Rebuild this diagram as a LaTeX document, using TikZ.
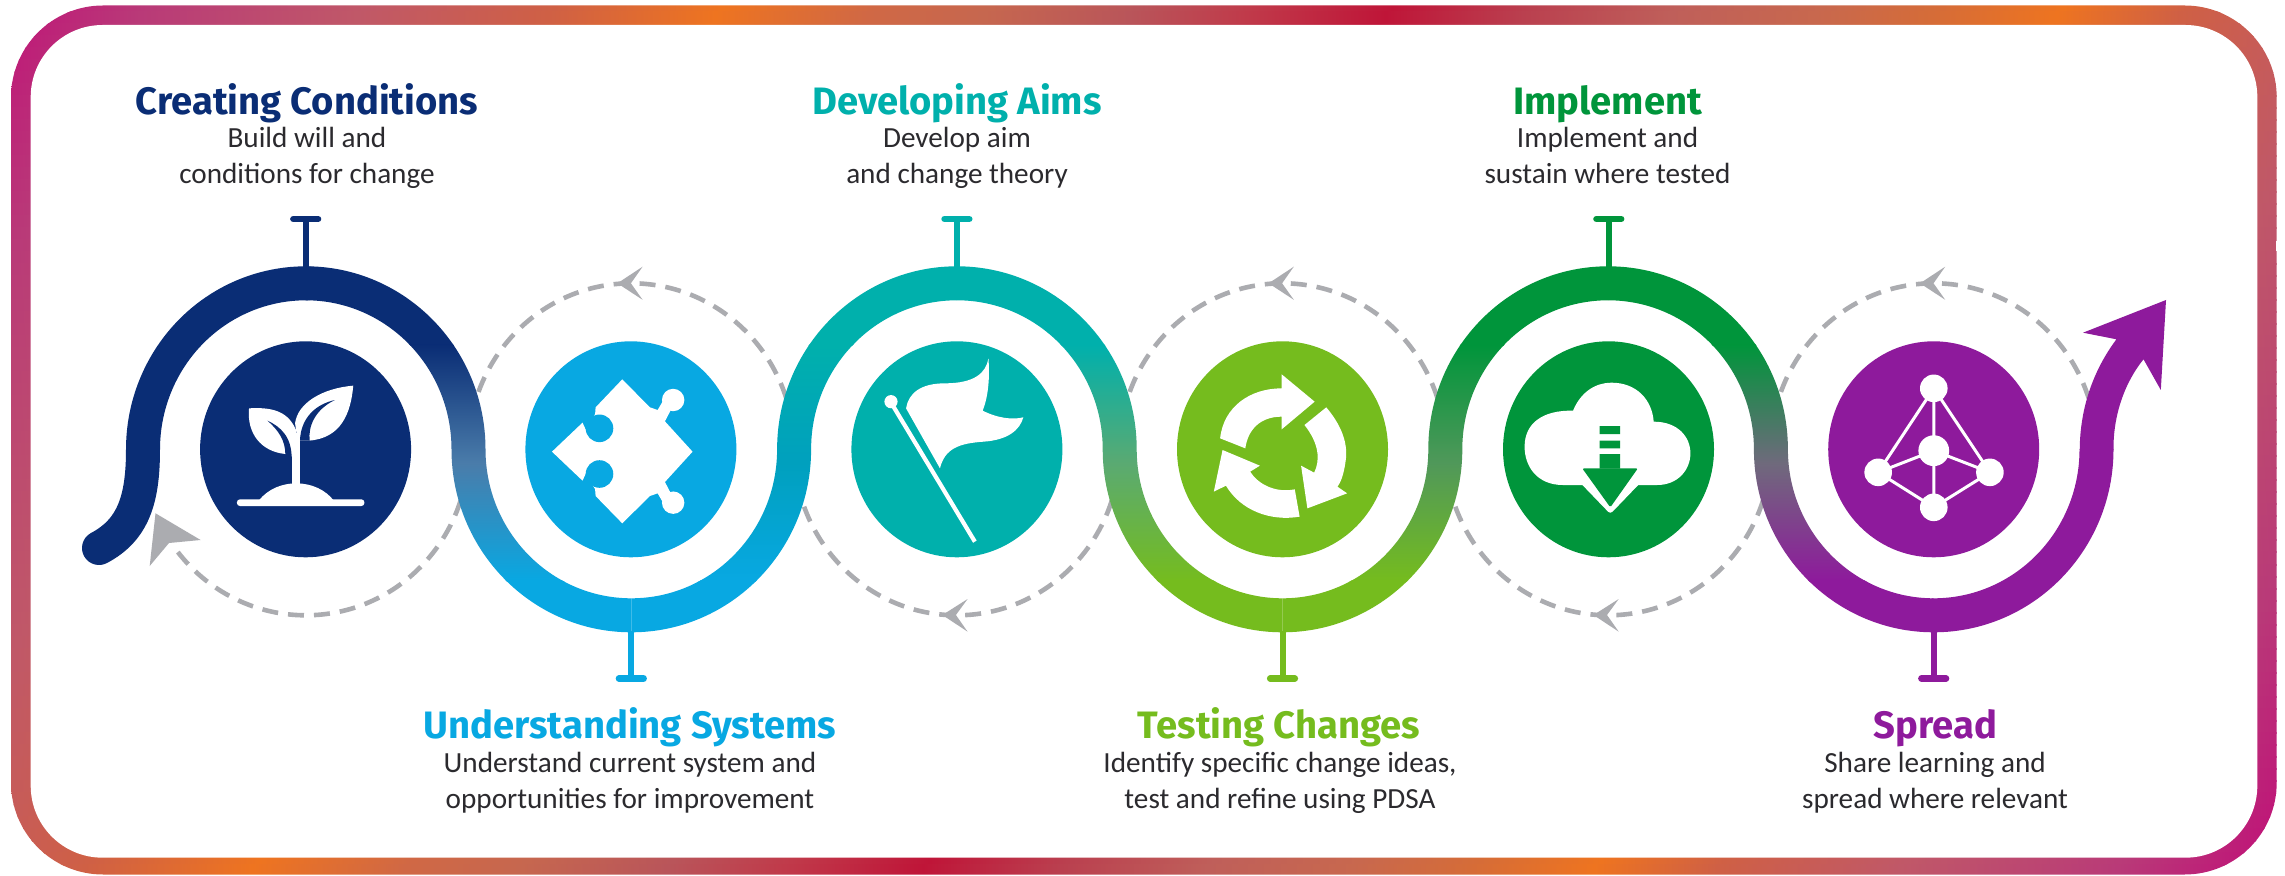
\documentclass[tikz,border=0pt]{standalone}
\usepackage{fontspec}
\usetikzlibrary{shapes.geometric}
\setmainfont{Carlito}
\newfontfamily\titlefont{Fira Sans}[UprightFont=*,BoldFont=* Bold]
\definecolor{ciNavy}{HTML}{0A2D75}
\definecolor{ciSky}{HTML}{08A8E2}
\definecolor{ciTeal}{HTML}{00B0AC}
\definecolor{ciLime}{HTML}{75BC1E}
\definecolor{ciGrass}{HTML}{00953B}
\definecolor{ciPurple}{HTML}{8E1A9C}
\definecolor{ciGray}{HTML}{ABACB0}
\definecolor{ciText}{HTML}{2B2A2E}
\definecolor{mixA}{HTML}{4A7CAA}
\definecolor{mixB}{HTML}{00A0BE}
\definecolor{mixC}{HTML}{5AAA72}
\definecolor{mixD}{HTML}{50985A}
\definecolor{mixE}{HTML}{6F6A7C}
\definecolor{fa}{HTML}{BF1278}\definecolor{fb}{HTML}{B93A78}\definecolor{fc}{HTML}{C05868}
\definecolor{fd}{HTML}{CF6045}\definecolor{fe}{HTML}{EE7420}\definecolor{ff}{HTML}{D06845}
\definecolor{fg}{HTML}{C6674F}\definecolor{fh}{HTML}{B9555A}\definecolor{fi}{HTML}{C03A4A}
\definecolor{fj}{HTML}{BF1538}\definecolor{fk}{HTML}{BA404F}\definecolor{fl}{HTML}{BF5F5A}
\definecolor{fm}{HTML}{C8684E}\definecolor{fn}{HTML}{D56C38}
\pgfdeclarehorizontalshading{framegrad}{100bp}{
 color(0bp)=(fa); color(25bp)=(fa); color(27.61bp)=(fb); color(31.5bp)=(fc); color(34.89bp)=(fd);
 color(37.89bp)=(fe); color(40.61bp)=(ff); color(42.68bp)=(fg); color(45.29bp)=(fh); color(47.38bp)=(fi);
 color(49.86bp)=(fj); color(52.32bp)=(fk); color(54.93bp)=(fl); color(57.54bp)=(fm); color(59.61bp)=(fn);
 color(61.84bp)=(fe); color(64.04bp)=(fd); color(67.3bp)=(fc); color(71.2bp)=(fb); color(73.8bp)=(fa); color(100bp)=(fa)}
% ribbon geometry (px centre line 162.8/166, half width 17); radii in pt = px/2
\def\cyy{449.3}
\def\rxo{89.9pt}\def\ryo{91.5pt}\def\rxi{72.9pt}\def\ryi{74.5pt}\def\rxm{81.4pt}\def\rym{83pt}
\newcommand\rdown[1]{(#1,266.3) arc[start angle=90,end angle=0,x radius=\rxo,y radius=\ryo]
 arc[start angle=180,end angle=270,x radius=\rxi,y radius=\ryi] -- ++(0,34)
 arc[start angle=270,end angle=180,x radius=\rxo,y radius=\ryo]
 arc[start angle=0,end angle=90,x radius=\rxi,y radius=\ryi] -- cycle}
\newcommand\rup[1]{(#1,632.3) arc[start angle=270,end angle=360,x radius=\rxo,y radius=\ryo]
 arc[start angle=180,end angle=90,x radius=\rxi,y radius=\ryi] -- ++(0,-34)
 arc[start angle=90,end angle=180,x radius=\rxo,y radius=\ryo]
 arc[start angle=0,end angle=-90,x radius=\rxi,y radius=\ryi] -- cycle}
\newcommand\ribbonpiece[5]{%
 \begin{scope}
 \clip #1{#2};
 \fill[#3] (#2-200,250) rectangle (#2+520,346);
 \shade[top color=#3,bottom color=#5,middle color=#4] (#2-200,345) rectangle (#2+520,581);
 \fill[#5] (#2-200,580) rectangle (#2+520,650);
 \end{scope}}
\tikzset{
 disc/.style={ellipse,inner sep=0pt,minimum width=105.5pt,minimum height=108pt,fill=#1},
 dashloop/.style={draw=ciGray,line width=2.3pt,dash pattern=on 8pt off 5pt},
 headfill/.style={fill=ciGray},
 stemline/.style={draw=#1,line width=3pt},
 barline/.style={draw=#1,line width=3.2pt,line cap=round},
 heading/.style={font=\titlefont\bfseries\fontsize{19.1}{22}\selectfont,text=#1,anchor=base,inner sep=0pt},
 bodytext/.style={font=\fontsize{14.6}{18}\selectfont,text=ciText,align=center,inner sep=0pt},
 zoomA/.style={shift={(60,200)},x=0.24235pt,y=-0.16667pt},
 zoomB/.style={shift={(780,200)},x=0.24235pt,y=-0.16667pt},
 zoomC/.style={shift={(1420,200)},x=0.2551pt,y=-0.16667pt},
}
\begin{document}
\begin{tikzpicture}[x=0.5pt,y=-0.5pt]
\useasboundingbox (0,0) rectangle (2285,876);
% gradient frame
\begin{scope}
 \clip[rounded corners=46pt] (11,5.5) rectangle (2276.7,874.5);
 \foreach \yy in {0,12,...,876}{
  \shade[shading=framegrad] ({-0.543*\yy},\yy) rectangle ({2800-0.543*\yy},\yy+13);
 }
\end{scope}
\fill[white,rounded corners=36pt] (30.7,25) rectangle (2257.3,857.7);
% dashed loops
\draw[dashloop] (305.7+162.8,\cyy) arc[start angle=0,end angle=-145,x radius=\rxm,y radius=\rym];
\foreach \xx in {631.3,1282.5,1933.7}
 \draw[dashloop] (\xx+162.8,\cyy) arc[start angle=0,end angle=180,x radius=\rxm,y radius=\rym];
\foreach \xx in {956.9,1608.1}
 \draw[dashloop] (\xx+162.8,\cyy) arc[start angle=0,end angle=-180,x radius=\rxm,y radius=\rym];
\fill[headfill] (155.5,513.3) -- (200.6,540) -- (169,543) -- (149.7,566) -- cycle;
\foreach \xx in {617.4,1268.6,1920}
 \fill[headfill] (\xx,283.3) -- (\xx+25.2,266.7) -- (\xx+13.5,283.3) -- (\xx+25.2,299.8) -- cycle;
\foreach \xx in {942.4,1593.5}
 \fill[headfill] (\xx,615) -- (\xx+25.2,599) -- (\xx+13.5,615) -- (\xx+25.2,631.7) -- cycle;
% ribbon
\draw[ciNavy,line width=17pt,line cap=round] (99,548) .. controls (133,530) and (143,500) .. (143,449.3)
 arc[start angle=180,end angle=89.5,x radius=\rxm,y radius=\rym];
\ribbonpiece{\rdown}{305.7}{ciNavy}{mixA}{ciSky}
\ribbonpiece{\rup}{631.3}{ciTeal}{mixB}{ciSky}
\ribbonpiece{\rdown}{956.9}{ciTeal}{mixC}{ciLime}
\ribbonpiece{\rup}{1282.5}{ciGrass}{mixD}{ciLime}
\ribbonpiece{\rdown}{1608.1}{ciGrass}{mixE}{ciPurple}
\fill[ciPurple] (1931.7,632.3) -- (1933.7,632.3) arc[start angle=270,end angle=360,x radius=\rxo,y radius=\ryo]
 -- (2079.5,449.3) arc[start angle=0,end angle=-90,x radius=\rxi,y radius=\ryi] -- (1931.7,598.3) -- cycle;
\fill[ciPurple] (2079.7,450) .. controls (2080,405) and (2095,368) .. (2116.4,339.3)
 -- (2083,332.7) -- (2166,300) -- (2160.8,390) -- (2143.5,359.3)
 .. controls (2125,382) and (2113,415) .. (2113.5,450) -- cycle;
% discs
\node[disc=ciNavy] (c1) at (305.6,449.3) {};
\node[disc=ciSky] (c2) at (630.9,449.3) {};
\node[disc=ciTeal] (c3) at (956.9,449.3) {};
\node[disc=ciLime] (c4) at (1282.5,449.3) {};
\node[disc=ciGrass] (c5) at (1608.5,449.3) {};
\node[disc=ciPurple] (c6) at (1933.7,449.3) {};
% stems
\foreach \nm/\xx/\col in {a/305.7/ciNavy,c/956.9/ciTeal,e/1608.8/ciGrass}{
 \coordinate (s\nm) at (\xx,268);
 \coordinate (t\nm) at (\xx,219);
 \draw[stemline=\col] (s\nm) -- (t\nm);
 \draw[barline=\col] ([xshift=-6.2pt]t\nm) -- ([xshift=6.2pt]t\nm);
}
\foreach \nm/\xx/\col in {b/631.3/ciSky,d/1282.5/ciLime,f/1933.7/ciPurple}{
 \coordinate (s\nm) at (\xx,631);
 \coordinate (t\nm) at (\xx,678.5);
 \draw[stemline=\col] (s\nm) -- (t\nm);
 \draw[barline=\col] ([xshift=-6.2pt]t\nm) -- ([xshift=6.2pt]t\nm);
}
% text
\node[heading=ciNavy] (h1) at (307,115) {Creating Conditions};
\node[bodytext] (d1) at (307,158.8) {\strut Build will and\\\strut conditions for change};
\node[heading=ciTeal] (h3) at (957,114.5) {Developing Aims};
\node[bodytext] (d3) at (957,158.8) {\strut Develop aim\\\strut and change theory};
\node[heading=ciGrass] (h5) at (1607.5,114.5) {Implement};
\node[bodytext] (d5) at (1607.5,158.8) {\strut Implement and\\\strut sustain where tested};
\node[heading=ciSky] (h2) at (630,738) {Understanding Systems};
\node[bodytext] (d2) at (630,783.3) {\strut Understand current system and\\\strut opportunities for improvement};
\node[heading=ciLime] (h4) at (1279,738) {Testing Changes};
\node[bodytext] (d4) at (1280,783.3) {\strut Identify specific change ideas,\\\strut test and refine using PDSA};
\node[heading=ciPurple] (h6) at (1935.5,738) {Spread};
\node[bodytext] (d6) at (1935,783.3) {\strut Share learning and\\\strut spread where relevant};
% sprout icon
\begin{scope}[zoomA]
 \fill[white,rounded corners=1.5pt] (365,898) rectangle (628,918);
 \fill[white] (410,902) .. controls (430,865) and (460,850) .. (487,850) .. controls (520,850) and (548,870) .. (565,902) -- cycle;
 \fill[white] (390,625) .. controls (445,620) and (472,640) .. (487,690) -- (487,775) -- (465,762) .. controls (415,755) and (385,700) .. (390,625) -- cycle;
 \fill[white] (485,670) .. controls (490,610) and (540,565) .. (605,557) .. controls (600,640) and (580,715) .. (513,722) -- (495,770) -- cycle;
 \fill[ciNavy] (428,662) .. controls (455,680) and (478,710) .. (478,775) -- (465,765) .. controls (465,720) and (450,690) .. (428,662) -- cycle;
 \fill[ciNavy] (567,600) .. controls (530,612) and (497,650) .. (495,722) -- (515,722) .. controls (512,680) and (525,630) .. (567,600) -- cycle;
 \fill[ciNavy] (495,722) -- (515,722) -- (495,790) -- cycle;
 \fill[white] (478,700) rectangle (495,855);
\end{scope}
% puzzle icon
\begin{scope}[zoomA]
 \fill[white] (1160,538) -- (1217,622) -- (1233,630) -- (1245,600) -- (1262,625) -- (1248,664) -- (1305,755) -- (1248,846) -- (1262,885) -- (1245,910) -- (1233,880) -- (1217,888) -- (1160,970) -- (1105,888) -- (1104,868) -- (1085,820) -- (1078,842) -- (1015,755) -- (1078,668) -- (1085,690) -- (1104,642) -- (1105,622) -- cycle;
 \fill[white] (1265,600) circle [radius=5.6pt] (1265,908) circle [radius=5.6pt];
 \fill[ciSky] (1113,685) circle [radius=6.9pt] (1113,822) circle [radius=6.9pt];
\end{scope}
% flag icon
\begin{scope}[zoomB]
 \draw[white,line width=2.1pt] (230,610) -- (402,1025);
 \fill[white] (229,605) circle [radius=3.3pt];
 \fill[white] (260,625) .. controls (265,580) and (290,550) .. (340,550) .. controls (400,550) and (425,520) .. (430,475)
  .. controls (433,530) and (430,590) .. (418,632) .. controls (450,655) and (480,660) .. (502,652)
  .. controls (495,690) and (470,720) .. (420,725) .. controls (370,730) and (340,745) .. (330,805) -- cycle;
\end{scope}
% cycle icon
\begin{scope}[zoomB]
 \fill[white] (908,715) .. controls (915,620) and (970,565) .. (1035,565) -- (1035,523) -- (1103,605) -- (1035,688) -- (1035,650) .. controls (990,650) and (965,690) .. (960,745) -- cycle;
 \fill[white] (1127,622) .. controls (1155,670) and (1170,720) .. (1168,770) .. controls (1165,810) and (1160,840) .. (1150,860) -- (1170,880) -- (1088,925) -- (1075,797) -- (1102,818) .. controls (1115,780) and (1112,730) .. (1082,675) -- cycle;
 \fill[white] (913,750) -- (990,797) -- (970,815) .. controls (985,850) and (1020,880) .. (1062,868) -- (1072,950) .. controls (1010,965) and (950,930) .. (920,857) -- (895,875) -- cycle;
\end{scope}
% cloud icon
\begin{scope}[zoomC]
 \fill[white] (280,855) .. controls (230,855) and (205,800) .. (205,740) .. controls (205,670) and (240,630) .. (300,632)
  .. controls (315,575) and (345,548) .. (375,548) .. controls (425,548) and (455,600) .. (458,665)
  .. controls (505,665) and (530,710) .. (530,760) .. controls (530,810) and (505,855) .. (465,855) -- cycle;
 \fill[white,rounded corners=1.5pt] (312,845) -- (373,942) -- (434,845) -- cycle;
 \fill[ciGrass,rounded corners=0.7pt] (318,805) -- (427,805) -- (373,922) -- cycle;
 \fill[ciGrass] (352,762) rectangle (392,806) (352,722) rectangle (392,745) (352,678) rectangle (392,702);
\end{scope}
% network icon
\begin{scope}[zoomC]
 \coordinate (na) at (1007,565);
 \coordinate (nb) at (1007,752);
 \coordinate (nc) at (898,817);
 \coordinate (nd) at (1117,817);
 \coordinate (ne) at (1007,922);
 \draw[white,line width=1.5pt] (na) -- (nb) -- (ne) -- (nc) -- (na) -- (nd) -- (ne) (nc) -- (nb) -- (nd);
 \foreach \pp/\rr in {na/6.9,nb/7.7,nc/6.9,nd/6.9,ne/6.9}
  \fill[white] (\pp) circle [radius=\rr pt];
\end{scope}
\end{tikzpicture}
\end{document}
